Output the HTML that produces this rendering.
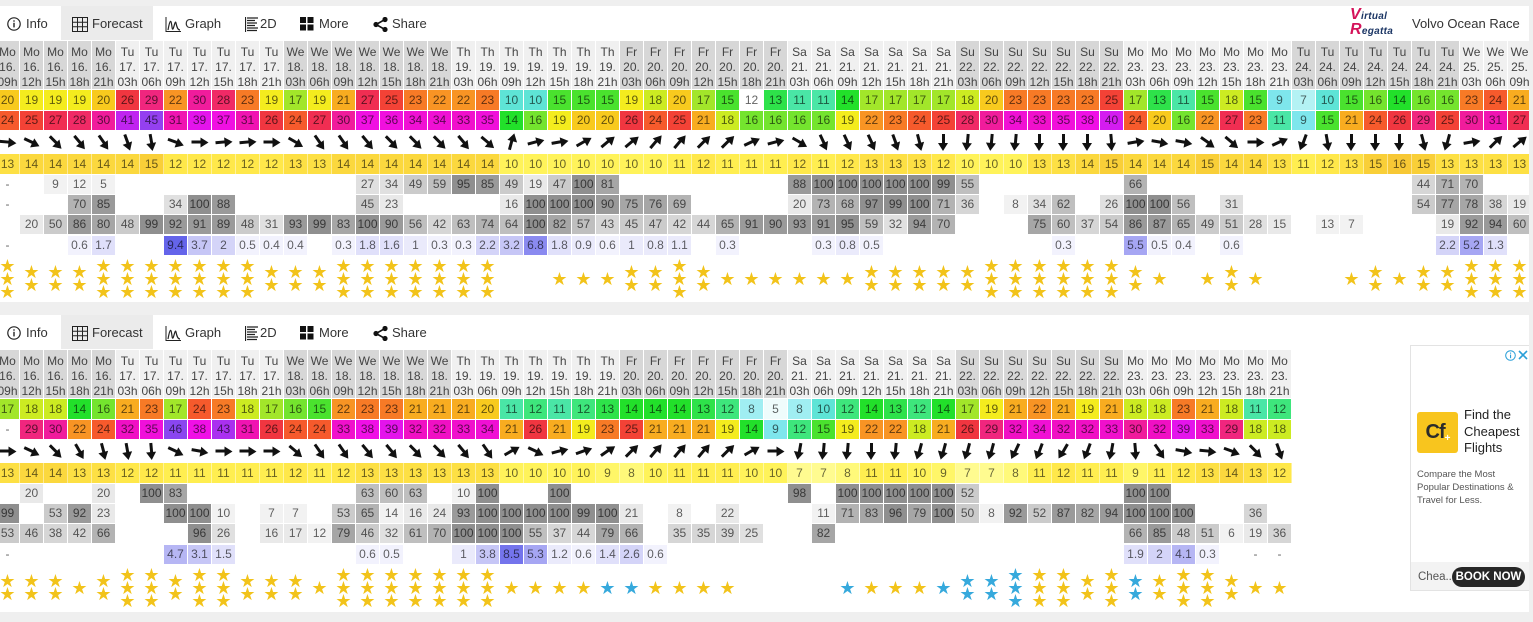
<!DOCTYPE html>
<html><head><meta charset="utf-8">
<style>
*{margin:0;padding:0;box-sizing:border-box}
body{width:1533px;height:622px;overflow:hidden;background:#efefef;font-family:"Liberation Sans",sans-serif;position:relative}
.p{position:absolute;left:0;width:1529px;background:#fff;overflow:hidden}
.fc{position:absolute;left:61px;top:0;width:92px;height:34px;background:#ebebeb}
.tx{position:absolute;top:10px;font-size:13px;color:#333;line-height:16px;white-space:nowrap}
.ic{position:absolute;top:11px}
.r{position:absolute;left:-4px;display:flex}
.r>b{flex:0 0 23px;width:23px;margin-right:1px;text-align:center;font-weight:400;font-size:12px;color:rgba(0,0,0,.62);display:block;overflow:hidden}
.hd{top:35px}.hd>b{height:48px;line-height:15px;padding-top:4px;color:#444;white-space:normal}
.d{background:#d7d7d7}.l{background:#f0f0f0}
.w{top:84px}.w>b{height:20px;line-height:20px}
.g{top:105px}.g>b{height:19px;line-height:19px}
.ar{top:125px}.ar>b{height:22px;position:relative;overflow:visible}
.ar i{position:absolute;left:0;top:0;width:23px;height:22px}
.ar i:before{content:"";position:absolute;left:10.1px;top:6px;width:2.8px;height:13px;background:#111}
.ar i:after{content:"";position:absolute;left:6.5px;top:2px;border-left:5px solid transparent;border-right:5px solid transparent;border-bottom:8px solid #111}
.t{top:148px}.t>b{height:20px;line-height:20px;margin-right:0!important;flex-basis:24px!important;width:24px!important;border-right:1px solid rgba(255,255,255,.45);color:rgba(0,0,0,.6)}
.ca{top:169px}.cb{top:189px}.cc{top:209px}
.ca>b,.cb>b,.cc>b{height:19px;line-height:19px;color:rgba(0,0,0,.62)}
.rn{top:230px}.rn>b{height:19px;line-height:19px}
.st{top:251px}.st>b{height:44px;display:flex;flex-direction:column;justify-content:center;font-size:18px;line-height:13px;color:#f2c31a;font-family:"DejaVu Sans",sans-serif}
.st>b.bl{color:#36a9dc}
.k5{background:#effcfc}.k7{background:#b4f2f4}.k8{background:#a0eef2}.k9{background:#7ee6ec}.k10{background:#5ee4d6}.k11{background:#4ae6a6}.k12{background:#3ee67c}.k13{background:#2ee24a}.k14{background:#22e02a}.k15{background:#4ae22e}.k16{background:#74e42e}.k17{background:#a2e62a}.k18{background:#cceb22}.k19{background:#f4ec1e}.k20{background:#f8ca1e}.k21{background:#f8ac20}.k22{background:#f89424}.k23{background:#f77a26}.k24{background:#f65a2c}.k25{background:#f34236}.k26{background:#f03640}.k27{background:#f02e52}.k28{background:#f02a66}.k29{background:#f0267e}.k30{background:#f01c9c}.k31{background:#f014b2}.k32{background:#f010c4}.k33{background:#f010cc}.k34{background:#f010d4}.k35{background:#f010da}.k36{background:#f010de}.k37{background:#f010e2}.k38{background:#f010e6}.k39{background:#e414ec}.k40{background:#d41cf0}.k41{background:#c024f0}.k43{background:#aa30f0}.k45{background:#9440f0}.k46{background:#8a46f0}
.t7{background:#fffb90}.t8{background:#fff97a}.t9{background:#fff668}.t10{background:#fff35a}.t11{background:#ffee50}.t12{background:#ffe84a}.t13{background:#fde044}.t14{background:#fbd83e}.t15{background:#f9cf38}.t16{background:#f7c835}
.c1{background:#f2f2f2}.c2{background:#e9e9e9}.c3{background:#e0e0e0}.c4{background:#d6d6d6}.c5{background:#cbcbcb}.c6{background:#bfbfbf}.c7{background:#b3b3b3}.c8{background:#a6a6a6}.c9{background:#9a9a9a}.c10{background:#8f8f8f}
.x1{background:#f2f2fd}.x2{background:#eaeafb}.x3{background:#e0e0fa}.x4{background:#d4d4f8}.x5{background:#c6c6f6}.x6{background:#b6b6f4}.x7{background:#a6a6f3}.x8{background:#8a8af0}.x9{background:#7474ec}.x10{background:#6464ea}
.ad{position:absolute;left:1410px;top:30px;width:120px;height:246px;border:1px solid #e3e3e3;background:#fff;overflow:hidden}
</style></head><body>

<!-- TOP PANEL -->
<div class="p" style="top:6px;height:296px">
<div class="fc"></div>
<svg class="ic" style="left:7px" width="14" height="14" viewBox="0 0 14 14"><circle cx="7" cy="7" r="6.2" fill="none" stroke="#222" stroke-width="1.2"/><rect x="6.3" y="5.8" width="1.4" height="4.6" fill="#222"/><rect x="6.3" y="3.3" width="1.4" height="1.4" fill="#222"/></svg>
<span class="tx" style="left:26px">Info</span>
<svg class="ic" style="left:72px" width="16" height="15" viewBox="0 0 16 15"><path d="M.5 .5h15v14H.5zM5.5 .5v14M10.5 .5v14M.5 5.2h15M.5 9.8h15" fill="none" stroke="#222"/></svg>
<span class="tx" style="left:92px">Forecast</span>
<svg class="ic" style="left:165px" width="16" height="15" viewBox="0 0 16 15"><path d="M1 0v14.5h15" stroke="#222" fill="none"/><path d="M3 13C5 2 6 2 7 10S10 1 11 6 13 13 15 13" stroke="#222" fill="none" stroke-width="1.2"/></svg>
<span class="tx" style="left:185px">Graph</span>
<svg class="ic" style="left:245px" width="14" height="15" viewBox="0 0 14 15"><path d="M.5 0v15M2 1h11M2 3.5h8M2 6h10M2 8.5h8M2 11h11M2 13.5h10" stroke="#222" fill="none" stroke-width="1.2"/></svg>
<span class="tx" style="left:260px">2D</span>
<svg class="ic" style="left:300px" width="14" height="14" viewBox="0 0 14 14"><rect width="6" height="6" fill="#111"/><rect x="7.5" width="6" height="6" fill="#111"/><rect y="7.5" width="6" height="6" fill="#111"/><rect x="7.5" y="7.5" width="6" height="6" fill="#111"/></svg>
<span class="tx" style="left:319px">More</span>
<svg class="ic" style="left:373px" width="15" height="15" viewBox="0 0 15 15"><path d="M12 2.5L3 7.5 12 12.5" stroke="#111" fill="none" stroke-width="1.6"/><circle cx="12" cy="2.5" r="2.6" fill="#111"/><circle cx="3" cy="7.5" r="2.6" fill="#111"/><circle cx="12" cy="12.5" r="2.6" fill="#111"/></svg>
<span class="tx" style="left:392px">Share</span>
<div style="position:absolute;left:1350px;top:2px;font-style:italic;font-weight:bold;color:#1b3564;font-size:10px;line-height:13px;letter-spacing:.3px"><span style="color:#d4145a;font-size:16px">V</span>irtual<br><span style="color:#d4145a;font-size:16px">R</span>egatta</div>
<span class="tx" style="left:1412px">Volvo Ocean Race</span>

<div class="r hd">
<b class=d>Mo 16. 09h</b><b class=d>Mo 16. 12h</b><b class=d>Mo 16. 15h</b><b class=d>Mo 16. 18h</b><b class=d>Mo 16. 21h</b>
<b class=l>Tu 17. 03h</b><b class=l>Tu 17. 06h</b><b class=l>Tu 17. 09h</b><b class=l>Tu 17. 12h</b><b class=l>Tu 17. 15h</b><b class=l>Tu 17. 18h</b><b class=l>Tu 17. 21h</b>
<b class=d>We 18. 03h</b><b class=d>We 18. 06h</b><b class=d>We 18. 09h</b><b class=d>We 18. 12h</b><b class=d>We 18. 15h</b><b class=d>We 18. 18h</b><b class=d>We 18. 21h</b>
<b class=l>Th 19. 03h</b><b class=l>Th 19. 06h</b><b class=l>Th 19. 09h</b><b class=l>Th 19. 12h</b><b class=l>Th 19. 15h</b><b class=l>Th 19. 18h</b><b class=l>Th 19. 21h</b>
<b class=d>Fr 20. 03h</b><b class=d>Fr 20. 06h</b><b class=d>Fr 20. 09h</b><b class=d>Fr 20. 12h</b><b class=d>Fr 20. 15h</b><b class=d>Fr 20. 18h</b><b class=d>Fr 20. 21h</b>
<b class=l>Sa 21. 03h</b><b class=l>Sa 21. 06h</b><b class=l>Sa 21. 09h</b><b class=l>Sa 21. 12h</b><b class=l>Sa 21. 15h</b><b class=l>Sa 21. 18h</b><b class=l>Sa 21. 21h</b>
<b class=d>Su 22. 03h</b><b class=d>Su 22. 06h</b><b class=d>Su 22. 09h</b><b class=d>Su 22. 12h</b><b class=d>Su 22. 15h</b><b class=d>Su 22. 18h</b><b class=d>Su 22. 21h</b>
<b class=l>Mo 23. 03h</b><b class=l>Mo 23. 06h</b><b class=l>Mo 23. 09h</b><b class=l>Mo 23. 12h</b><b class=l>Mo 23. 15h</b><b class=l>Mo 23. 18h</b><b class=l>Mo 23. 21h</b>
<b class=d>Tu 24. 03h</b><b class=d>Tu 24. 06h</b><b class=d>Tu 24. 09h</b><b class=d>Tu 24. 12h</b><b class=d>Tu 24. 15h</b><b class=d>Tu 24. 18h</b><b class=d>Tu 24. 21h</b>
<b class=l>We 25. 03h</b><b class=l>We 25. 06h</b><b class=l>We 25. 09h</b>
</div>

<div class="r w">
<b class=k20>20</b><b class=k19>19</b><b class=k19>19</b><b class=k19>19</b><b class=k20>20</b><b class=k26>26</b><b class=k29>29</b><b class=k22>22</b><b class=k30>30</b><b class=k28>28</b><b class=k23>23</b><b class=k19>19</b><b class=k17>17</b><b class=k19>19</b><b class=k21>21</b><b class=k27>27</b><b class=k25>25</b><b class=k23>23</b><b class=k22>22</b><b class=k22>22</b><b class=k23>23</b>
<b class=k10>10</b><b class=k10>10</b><b class=k15>15</b><b class=k15>15</b><b class=k15>15</b><b class=k19>19</b><b class=k18>18</b><b class=k20>20</b><b class=k17>17</b><b class=k15>15</b><b>12</b><b class=k13>13</b><b class=k11>11</b><b class=k11>11</b><b class=k14>14</b><b class=k17>17</b><b class=k17>17</b><b class=k17>17</b><b class=k17>17</b><b class=k18>18</b><b class=k20>20</b>
<b class=k23>23</b><b class=k23>23</b><b class=k23>23</b><b class=k23>23</b><b class=k25>25</b><b class=k17>17</b><b class=k13>13</b><b class=k11>11</b><b class=k15>15</b><b class=k18>18</b><b class=k15>15</b><b class=k9>9</b><b class=k7>7</b><b class=k10>10</b><b class=k15>15</b><b class=k16>16</b><b class=k14>14</b><b class=k16>16</b><b class=k16>16</b><b class=k23>23</b><b class=k24>24</b><b class=k21>21</b>
</div>

<div class="r g">
<b class=k24>24</b><b class=k25>25</b><b class=k27>27</b><b class=k28>28</b><b class=k30>30</b><b class=k41>41</b><b class=k45>45</b><b class=k31>31</b><b class=k39>39</b><b class=k37>37</b><b class=k31>31</b><b class=k26>26</b><b class=k24>24</b><b class=k27>27</b><b class=k30>30</b><b class=k37>37</b><b class=k36>36</b><b class=k34>34</b><b class=k34>34</b><b class=k33>33</b><b class=k35>35</b>
<b class=k14>14</b><b class=k16>16</b><b class=k19>19</b><b class=k20>20</b><b class=k20>20</b><b class=k26>26</b><b class=k24>24</b><b class=k25>25</b><b class=k21>21</b><b class=k18>18</b><b class=k16>16</b><b class=k16>16</b><b class=k16>16</b><b class=k16>16</b><b class=k19>19</b><b class=k22>22</b><b class=k23>23</b><b class=k24>24</b><b class=k25>25</b><b class=k28>28</b><b class=k30>30</b>
<b class=k34>34</b><b class=k33>33</b><b class=k35>35</b><b class=k38>38</b><b class=k40>40</b><b class=k24>24</b><b class=k20>20</b><b class=k16>16</b><b class=k22>22</b><b class=k27>27</b><b class=k23>23</b><b class=k11>11</b><b class=k9>9</b><b class=k15>15</b><b class=k21>21</b><b class=k24>24</b><b class=k26>26</b><b class=k29>29</b><b class=k25>25</b><b class=k30>30</b><b class=k31>31</b><b class=k27>27</b>
</div>

<div class="r ar">
<b><i style="transform:rotate(95deg)"></i></b><b><i style="transform:rotate(115deg)"></i></b><b><i style="transform:rotate(135deg)"></i></b><b><i style="transform:rotate(140deg)"></i></b><b><i style="transform:rotate(145deg)"></i></b><b><i style="transform:rotate(160deg)"></i></b><b><i style="transform:rotate(170deg)"></i></b><b><i style="transform:rotate(110deg)"></i></b><b><i style="transform:rotate(90deg)"></i></b><b><i style="transform:rotate(85deg)"></i></b><b><i style="transform:rotate(85deg)"></i></b><b><i style="transform:rotate(90deg)"></i></b><b><i style="transform:rotate(120deg)"></i></b><b><i style="transform:rotate(145deg)"></i></b><b><i style="transform:rotate(145deg)"></i></b><b><i style="transform:rotate(140deg)"></i></b><b><i style="transform:rotate(135deg)"></i></b><b><i style="transform:rotate(135deg)"></i></b><b><i style="transform:rotate(135deg)"></i></b><b><i style="transform:rotate(140deg)"></i></b><b><i style="transform:rotate(130deg)"></i></b>
<b><i style="transform:rotate(15deg)"></i></b><b><i style="transform:rotate(75deg)"></i></b><b><i style="transform:rotate(80deg)"></i></b><b><i style="transform:rotate(60deg)"></i></b><b><i style="transform:rotate(50deg)"></i></b><b><i style="transform:rotate(50deg)"></i></b><b><i style="transform:rotate(40deg)"></i></b><b><i style="transform:rotate(40deg)"></i></b><b><i style="transform:rotate(45deg)"></i></b><b><i style="transform:rotate(45deg)"></i></b><b><i style="transform:rotate(65deg)"></i></b><b><i style="transform:rotate(75deg)"></i></b><b><i style="transform:rotate(120deg)"></i></b><b><i style="transform:rotate(155deg)"></i></b><b><i style="transform:rotate(155deg)"></i></b><b><i style="transform:rotate(155deg)"></i></b><b><i style="transform:rotate(160deg)"></i></b><b><i style="transform:rotate(165deg)"></i></b><b><i style="transform:rotate(180deg)"></i></b><b><i style="transform:rotate(185deg)"></i></b><b><i style="transform:rotate(185deg)"></i></b>
<b><i style="transform:rotate(185deg)"></i></b><b><i style="transform:rotate(180deg)"></i></b><b><i style="transform:rotate(180deg)"></i></b><b><i style="transform:rotate(180deg)"></i></b><b><i style="transform:rotate(175deg)"></i></b><b><i style="transform:rotate(80deg)"></i></b><b><i style="transform:rotate(100deg)"></i></b><b><i style="transform:rotate(100deg)"></i></b><b><i style="transform:rotate(125deg)"></i></b><b><i style="transform:rotate(130deg)"></i></b><b><i style="transform:rotate(90deg)"></i></b><b><i style="transform:rotate(65deg)"></i></b><b><i style="transform:rotate(200deg)"></i></b><b><i style="transform:rotate(170deg)"></i></b><b><i style="transform:rotate(180deg)"></i></b><b><i style="transform:rotate(180deg)"></i></b><b><i style="transform:rotate(180deg)"></i></b><b><i style="transform:rotate(165deg)"></i></b><b><i style="transform:rotate(195deg)"></i></b><b><i style="transform:rotate(80deg)"></i></b><b><i style="transform:rotate(45deg)"></i></b><b><i style="transform:rotate(50deg)"></i></b>
</div>

<div class="r t">
<b class=t13>13</b><b class=t14>14</b><b class=t14>14</b><b class=t14>14</b><b class=t14>14</b><b class=t14>14</b><b class=t15>15</b><b class=t12>12</b><b class=t12>12</b><b class=t12>12</b><b class=t12>12</b><b class=t12>12</b><b class=t13>13</b><b class=t13>13</b><b class=t14>14</b><b class=t14>14</b><b class=t14>14</b><b class=t14>14</b><b class=t14>14</b><b class=t14>14</b><b class=t14>14</b>
<b class=t10>10</b><b class=t10>10</b><b class=t10>10</b><b class=t10>10</b><b class=t10>10</b><b class=t10>10</b><b class=t10>10</b><b class=t11>11</b><b class=t12>12</b><b class=t11>11</b><b class=t11>11</b><b class=t11>11</b><b class=t12>12</b><b class=t11>11</b><b class=t12>12</b><b class=t13>13</b><b class=t13>13</b><b class=t13>13</b><b class=t12>12</b><b class=t10>10</b><b class=t10>10</b>
<b class=t10>10</b><b class=t13>13</b><b class=t13>13</b><b class=t14>14</b><b class=t15>15</b><b class=t14>14</b><b class=t14>14</b><b class=t14>14</b><b class=t15>15</b><b class=t14>14</b><b class=t14>14</b><b class=t13>13</b><b class=t11>11</b><b class=t12>12</b><b class=t13>13</b><b class=t15>15</b><b class=t16>16</b><b class=t15>15</b><b class=t13>13</b><b class=t13>13</b><b class=t13>13</b><b class=t13>13</b>
</div>

<div class="r ca">
<b>-</b><b></b><b class=c1>9</b><b class=c1>12</b><b class=c1>5</b><b></b><b></b><b></b><b></b><b></b><b></b><b></b><b></b><b></b><b></b><b class=c3>27</b><b class=c3>34</b><b class=c5>49</b><b class=c6>59</b><b class=c10>95</b><b class=c9>85</b>
<b class=c5>49</b><b class=c2>19</b><b class=c5>47</b><b class=c10>100</b><b class=c8>81</b><b></b><b></b><b></b><b></b><b></b><b></b><b></b><b class=c9>88</b><b class=c10>100</b><b class=c10>100</b><b class=c10>100</b><b class=c10>100</b><b class=c10>100</b><b class=c10>99</b><b class=c6>55</b><b></b>
<b></b><b></b><b></b><b></b><b></b><b class=c7>66</b><b></b><b></b><b></b><b></b><b></b><b></b><b></b><b></b><b></b><b></b><b></b><b class=c4>44</b><b class=c7>71</b><b class=c7>70</b><b></b><b></b>
</div>

<div class="r cb">
<b>-</b><b></b><b></b><b class=c7>70</b><b class=c9>85</b><b></b><b></b><b class=c3>34</b><b class=c10>100</b><b class=c9>88</b><b></b><b></b><b></b><b></b><b></b><b class=c5>45</b><b class=c2>23</b><b></b><b></b><b></b><b></b>
<b class=c2>16</b><b class=c10>100</b><b class=c10>100</b><b class=c10>100</b><b class=c9>90</b><b class=c8>75</b><b class=c8>76</b><b class=c7>69</b><b></b><b></b><b></b><b></b><b class=c2>20</b><b class=c7>73</b><b class=c7>68</b><b class=c10>97</b><b class=c10>99</b><b class=c10>100</b><b class=c7>71</b><b class=c4>36</b><b></b>
<b class=c1>8</b><b class=c3>34</b><b class=c6>62</b><b></b><b class=c3>26</b><b class=c10>100</b><b class=c10>100</b><b class=c6>56</b><b></b><b class=c3>31</b><b></b><b></b><b></b><b></b><b></b><b></b><b></b><b class=c5>54</b><b class=c8>77</b><b class=c8>78</b><b class=c4>38</b><b class=c2>19</b>
</div>

<div class="r cc">
<b></b><b class=c2>20</b><b class=c5>50</b><b class=c9>86</b><b class=c8>80</b><b class=c5>48</b><b class=c10>99</b><b class=c9>92</b><b class=c9>91</b><b class=c9>89</b><b class=c5>48</b><b class=c3>31</b><b class=c9>93</b><b class=c10>99</b><b class=c8>83</b><b class=c10>100</b><b class=c9>90</b><b class=c6>56</b><b class=c4>42</b><b class=c6>63</b><b class=c7>74</b>
<b class=c6>64</b><b class=c10>100</b><b class=c8>82</b><b class=c6>57</b><b class=c4>43</b><b class=c5>45</b><b class=c5>47</b><b class=c4>42</b><b class=c4>44</b><b class=c7>65</b><b class=c9>91</b><b class=c9>90</b><b class=c9>93</b><b class=c9>91</b><b class=c10>95</b><b class=c6>59</b><b class=c3>32</b><b class=c9>94</b><b class=c7>70</b><b></b><b></b>
<b></b><b class=c8>75</b><b class=c6>60</b><b class=c4>37</b><b class=c5>54</b><b class=c9>86</b><b class=c9>87</b><b class=c7>65</b><b class=c5>49</b><b class=c5>51</b><b class=c3>28</b><b class=c2>15</b><b></b><b class=c1>13</b><b class=c1>7</b><b></b><b></b><b></b><b class=c2>19</b><b class=c9>92</b><b class=c9>94</b><b class=c6>60</b>
</div>

<div class="r rn">
<b>-</b><b></b><b></b><b class=x1>0.6</b><b class=x3>1.7</b><b></b><b></b><b class=x10>9.4</b><b class=x5>3.7</b><b class=x4>2</b><b class=x1>0.5</b><b class=x1>0.4</b><b class=x1>0.4</b><b></b><b class=x1>0.3</b><b class=x3>1.8</b><b class=x3>1.6</b><b class=x2>1</b><b class=x1>0.3</b><b class=x1>0.3</b><b class=x4>2.2</b>
<b class=x5>3.2</b><b class=x8>6.8</b><b class=x3>1.8</b><b class=x2>0.9</b><b class=x1>0.6</b><b class=x2>1</b><b class=x2>0.8</b><b class=x2>1.1</b><b></b><b class=x1>0.3</b><b></b><b></b><b></b><b class=x1>0.3</b><b class=x2>0.8</b><b class=x1>0.5</b><b></b><b></b><b></b><b></b><b></b>
<b></b><b></b><b class=x1>0.3</b><b></b><b></b><b class=x7>5.5</b><b class=x1>0.5</b><b class=x1>0.4</b><b></b><b class=x1>0.6</b><b></b><b></b><b></b><b></b><b></b><b></b><b></b><b></b><b class=x4>2.2</b><b class=x7>5.2</b><b class=x3>1.3</b><b></b>
</div>

<div class="r st">
<b>★<br>★<br>★</b><b>★<br>★</b><b>★<br>★</b><b>★<br>★</b><b>★<br>★<br>★</b><b>★<br>★<br>★</b><b>★<br>★<br>★</b><b>★<br>★<br>★</b><b>★<br>★<br>★</b><b>★<br>★<br>★</b><b>★<br>★<br>★</b><b>★<br>★</b><b>★<br>★</b><b>★<br>★</b><b>★<br>★<br>★</b><b>★<br>★<br>★</b><b>★<br>★<br>★</b><b>★<br>★<br>★</b><b>★<br>★<br>★</b><b>★<br>★<br>★</b><b>★<br>★<br>★</b>
<b></b><b></b><b>★</b><b>★</b><b>★</b><b>★<br>★</b><b>★<br>★</b><b>★<br>★<br>★</b><b>★<br>★</b><b>★</b><b>★</b><b>★</b><b>★</b><b>★</b><b>★</b><b>★<br>★</b><b>★<br>★</b><b>★<br>★</b><b>★<br>★</b><b>★<br>★</b><b>★<br>★<br>★</b>
<b>★<br>★<br>★</b><b>★<br>★<br>★</b><b>★<br>★<br>★</b><b>★<br>★<br>★</b><b>★<br>★<br>★</b><b>★<br>★</b><b>★</b><b></b><b>★</b><b>★<br>★</b><b>★</b><b></b><b></b><b></b><b>★</b><b>★<br>★</b><b>★</b><b>★<br>★</b><b>★<br>★</b><b>★<br>★<br>★</b><b>★<br>★<br>★</b><b>★<br>★<br>★</b>
</div>
</div>

<!-- BOTTOM PANEL -->
<div class="p" style="top:315px;height:297px">
<div class="fc"></div>
<svg class="ic" style="left:7px" width="14" height="14" viewBox="0 0 14 14"><circle cx="7" cy="7" r="6.2" fill="none" stroke="#222" stroke-width="1.2"/><rect x="6.3" y="5.8" width="1.4" height="4.6" fill="#222"/><rect x="6.3" y="3.3" width="1.4" height="1.4" fill="#222"/></svg>
<span class="tx" style="left:26px">Info</span>
<svg class="ic" style="left:72px" width="16" height="15" viewBox="0 0 16 15"><path d="M.5 .5h15v14H.5zM5.5 .5v14M10.5 .5v14M.5 5.2h15M.5 9.8h15" fill="none" stroke="#222"/></svg>
<span class="tx" style="left:92px">Forecast</span>
<svg class="ic" style="left:165px" width="16" height="15" viewBox="0 0 16 15"><path d="M1 0v14.5h15" stroke="#222" fill="none"/><path d="M3 13C5 2 6 2 7 10S10 1 11 6 13 13 15 13" stroke="#222" fill="none" stroke-width="1.2"/></svg>
<span class="tx" style="left:185px">Graph</span>
<svg class="ic" style="left:245px" width="14" height="15" viewBox="0 0 14 15"><path d="M.5 0v15M2 1h11M2 3.5h8M2 6h10M2 8.5h8M2 11h11M2 13.5h10" stroke="#222" fill="none" stroke-width="1.2"/></svg>
<span class="tx" style="left:260px">2D</span>
<svg class="ic" style="left:300px" width="14" height="14" viewBox="0 0 14 14"><rect width="6" height="6" fill="#111"/><rect x="7.5" width="6" height="6" fill="#111"/><rect y="7.5" width="6" height="6" fill="#111"/><rect x="7.5" y="7.5" width="6" height="6" fill="#111"/></svg>
<span class="tx" style="left:319px">More</span>
<svg class="ic" style="left:373px" width="15" height="15" viewBox="0 0 15 15"><path d="M12 2.5L3 7.5 12 12.5" stroke="#111" fill="none" stroke-width="1.6"/><circle cx="12" cy="2.5" r="2.6" fill="#111"/><circle cx="3" cy="7.5" r="2.6" fill="#111"/><circle cx="12" cy="12.5" r="2.6" fill="#111"/></svg>
<span class="tx" style="left:392px">Share</span>

<div class="r hd">
<b class=d>Mo 16. 09h</b><b class=d>Mo 16. 12h</b><b class=d>Mo 16. 15h</b><b class=d>Mo 16. 18h</b><b class=d>Mo 16. 21h</b>
<b class=l>Tu 17. 03h</b><b class=l>Tu 17. 06h</b><b class=l>Tu 17. 09h</b><b class=l>Tu 17. 12h</b><b class=l>Tu 17. 15h</b><b class=l>Tu 17. 18h</b><b class=l>Tu 17. 21h</b>
<b class=d>We 18. 03h</b><b class=d>We 18. 06h</b><b class=d>We 18. 09h</b><b class=d>We 18. 12h</b><b class=d>We 18. 15h</b><b class=d>We 18. 18h</b><b class=d>We 18. 21h</b>
<b class=l>Th 19. 03h</b><b class=l>Th 19. 06h</b><b class=l>Th 19. 09h</b><b class=l>Th 19. 12h</b><b class=l>Th 19. 15h</b><b class=l>Th 19. 18h</b><b class=l>Th 19. 21h</b>
<b class=d>Fr 20. 03h</b><b class=d>Fr 20. 06h</b><b class=d>Fr 20. 09h</b><b class=d>Fr 20. 12h</b><b class=d>Fr 20. 15h</b><b class=d>Fr 20. 18h</b><b class=d>Fr 20. 21h</b>
<b class=l>Sa 21. 03h</b><b class=l>Sa 21. 06h</b><b class=l>Sa 21. 09h</b><b class=l>Sa 21. 12h</b><b class=l>Sa 21. 15h</b><b class=l>Sa 21. 18h</b><b class=l>Sa 21. 21h</b>
<b class=d>Su 22. 03h</b><b class=d>Su 22. 06h</b><b class=d>Su 22. 09h</b><b class=d>Su 22. 12h</b><b class=d>Su 22. 15h</b><b class=d>Su 22. 18h</b><b class=d>Su 22. 21h</b>
<b class=l>Mo 23. 03h</b><b class=l>Mo 23. 06h</b><b class=l>Mo 23. 09h</b><b class=l>Mo 23. 12h</b><b class=l>Mo 23. 15h</b><b class=l>Mo 23. 18h</b><b class=l>Mo 23. 21h</b>
</div>

<div class="r w">
<b class=k17>17</b><b class=k18>18</b><b class=k18>18</b><b class=k14>14</b><b class=k16>16</b><b class=k21>21</b><b class=k23>23</b><b class=k17>17</b><b class=k24>24</b><b class=k23>23</b><b class=k18>18</b><b class=k17>17</b><b class=k16>16</b><b class=k15>15</b><b class=k22>22</b><b class=k23>23</b><b class=k23>23</b><b class=k21>21</b><b class=k21>21</b><b class=k21>21</b><b class=k20>20</b>
<b class=k11>11</b><b class=k12>12</b><b class=k11>11</b><b class=k12>12</b><b class=k13>13</b><b class=k14>14</b><b class=k14>14</b><b class=k14>14</b><b class=k13>13</b><b class=k12>12</b><b class=k8>8</b><b class=k5>5</b><b class=k8>8</b><b class=k10>10</b><b class=k12>12</b><b class=k14>14</b><b class=k13>13</b><b class=k12>12</b><b class=k14>14</b><b class=k17>17</b><b class=k19>19</b>
<b class=k21>21</b><b class=k22>22</b><b class=k21>21</b><b class=k19>19</b><b class=k21>21</b><b class=k18>18</b><b class=k18>18</b><b class=k23>23</b><b class=k21>21</b><b class=k18>18</b><b class=k11>11</b><b class=k12>12</b>
</div>

<div class="r g">
<b>-</b><b class=k29>29</b><b class=k30>30</b><b class=k22>22</b><b class=k24>24</b><b class=k32>32</b><b class=k35>35</b><b class=k46>46</b><b class=k38>38</b><b class=k43>43</b><b class=k31>31</b><b class=k26>26</b><b class=k24>24</b><b class=k24>24</b><b class=k33>33</b><b class=k38>38</b><b class=k39>39</b><b class=k32>32</b><b class=k32>32</b><b class=k33>33</b><b class=k34>34</b>
<b class=k21>21</b><b class=k26>26</b><b class=k21>21</b><b class=k19>19</b><b class=k23>23</b><b class=k25>25</b><b class=k21>21</b><b class=k21>21</b><b class=k21>21</b><b class=k19>19</b><b class=k14>14</b><b class=k9>9</b><b class=k12>12</b><b class=k15>15</b><b class=k19>19</b><b class=k22>22</b><b class=k22>22</b><b class=k18>18</b><b class=k21>21</b><b class=k26>26</b><b class=k29>29</b>
<b class=k32>32</b><b class=k34>34</b><b class=k32>32</b><b class=k32>32</b><b class=k33>33</b><b class=k30>30</b><b class=k32>32</b><b class=k39>39</b><b class=k33>33</b><b class=k29>29</b><b class=k18>18</b><b class=k18>18</b>
</div>

<div class="r ar">
<b><i style="transform:rotate(90deg)"></i></b><b><i style="transform:rotate(115deg)"></i></b><b><i style="transform:rotate(135deg)"></i></b><b><i style="transform:rotate(150deg)"></i></b><b><i style="transform:rotate(165deg)"></i></b><b><i style="transform:rotate(170deg)"></i></b><b><i style="transform:rotate(175deg)"></i></b><b><i style="transform:rotate(115deg)"></i></b><b><i style="transform:rotate(100deg)"></i></b><b><i style="transform:rotate(90deg)"></i></b><b><i style="transform:rotate(90deg)"></i></b><b><i style="transform:rotate(90deg)"></i></b><b><i style="transform:rotate(130deg)"></i></b><b><i style="transform:rotate(145deg)"></i></b><b><i style="transform:rotate(145deg)"></i></b><b><i style="transform:rotate(140deg)"></i></b><b><i style="transform:rotate(140deg)"></i></b><b><i style="transform:rotate(135deg)"></i></b><b><i style="transform:rotate(135deg)"></i></b><b><i style="transform:rotate(140deg)"></i></b><b><i style="transform:rotate(145deg)"></i></b>
<b><i style="transform:rotate(60deg)"></i></b><b><i style="transform:rotate(115deg)"></i></b><b><i style="transform:rotate(75deg)"></i></b><b><i style="transform:rotate(70deg)"></i></b><b><i style="transform:rotate(55deg)"></i></b><b><i style="transform:rotate(45deg)"></i></b><b><i style="transform:rotate(40deg)"></i></b><b><i style="transform:rotate(40deg)"></i></b><b><i style="transform:rotate(40deg)"></i></b><b><i style="transform:rotate(45deg)"></i></b><b><i style="transform:rotate(60deg)"></i></b><b><i style="transform:rotate(90deg)"></i></b><b><i style="transform:rotate(190deg)"></i></b><b><i style="transform:rotate(185deg)"></i></b><b><i style="transform:rotate(185deg)"></i></b><b><i style="transform:rotate(180deg)"></i></b><b><i style="transform:rotate(185deg)"></i></b><b><i style="transform:rotate(195deg)"></i></b><b><i style="transform:rotate(195deg)"></i></b><b><i style="transform:rotate(195deg)"></i></b><b><i style="transform:rotate(195deg)"></i></b>
<b><i style="transform:rotate(205deg)"></i></b><b><i style="transform:rotate(200deg)"></i></b><b><i style="transform:rotate(210deg)"></i></b><b><i style="transform:rotate(200deg)"></i></b><b><i style="transform:rotate(190deg)"></i></b><b><i style="transform:rotate(175deg)"></i></b><b><i style="transform:rotate(145deg)"></i></b><b><i style="transform:rotate(100deg)"></i></b><b><i style="transform:rotate(95deg)"></i></b><b><i style="transform:rotate(110deg)"></i></b><b><i style="transform:rotate(135deg)"></i></b><b><i style="transform:rotate(160deg)"></i></b>
</div>

<div class="r t">
<b class=t13>13</b><b class=t14>14</b><b class=t14>14</b><b class=t13>13</b><b class=t13>13</b><b class=t12>12</b><b class=t12>12</b><b class=t11>11</b><b class=t11>11</b><b class=t11>11</b><b class=t11>11</b><b class=t11>11</b><b class=t12>12</b><b class=t11>11</b><b class=t12>12</b><b class=t13>13</b><b class=t13>13</b><b class=t13>13</b><b class=t13>13</b><b class=t13>13</b><b class=t13>13</b>
<b class=t10>10</b><b class=t10>10</b><b class=t10>10</b><b class=t10>10</b><b class=t9>9</b><b class=t8>8</b><b class=t10>10</b><b class=t11>11</b><b class=t11>11</b><b class=t11>11</b><b class=t10>10</b><b class=t10>10</b><b class=t7>7</b><b class=t7>7</b><b class=t8>8</b><b class=t11>11</b><b class=t11>11</b><b class=t10>10</b><b class=t9>9</b><b class=t7>7</b><b class=t7>7</b>
<b class=t8>8</b><b class=t11>11</b><b class=t12>12</b><b class=t11>11</b><b class=t11>11</b><b class=t9>9</b><b class=t11>11</b><b class=t12>12</b><b class=t13>13</b><b class=t14>14</b><b class=t13>13</b><b class=t12>12</b>
</div>

<div class="r ca">
<b></b><b class=c2>20</b><b></b><b></b><b class=c2>20</b><b></b><b class=c10>100</b><b class=c8>83</b><b></b><b></b><b></b><b></b><b></b><b></b><b></b><b class=c6>63</b><b class=c6>60</b><b class=c6>63</b><b></b><b class=c1>10</b><b class=c10>100</b>
<b></b><b></b><b class=c10>100</b><b></b><b></b><b></b><b></b><b></b><b></b><b></b><b></b><b></b><b class=c10>98</b><b></b><b class=c10>100</b><b class=c10>100</b><b class=c10>100</b><b class=c10>100</b><b class=c10>100</b><b class=c5>52</b><b></b>
<b></b><b></b><b></b><b></b><b></b><b class=c10>100</b><b class=c10>100</b><b></b><b></b><b></b><b></b><b></b>
</div>

<div class="r cb">
<b class=c10>99</b><b></b><b class=c5>53</b><b class=c9>92</b><b class=c2>23</b><b></b><b></b><b class=c10>100</b><b class=c10>100</b><b class=c1>10</b><b></b><b class=c1>7</b><b class=c1>7</b><b></b><b class=c5>53</b><b class=c7>65</b><b class=c1>14</b><b class=c2>16</b><b class=c2>24</b><b class=c9>93</b><b class=c10>100</b>
<b class=c10>100</b><b class=c10>100</b><b class=c10>100</b><b class=c10>99</b><b class=c10>100</b><b class=c2>21</b><b></b><b class=c1>8</b><b></b><b class=c2>22</b><b></b><b></b><b></b><b class=c1>11</b><b class=c7>71</b><b class=c8>83</b><b class=c10>96</b><b class=c8>79</b><b class=c10>100</b><b class=c5>50</b><b class=c1>8</b>
<b class=c9>92</b><b class=c5>52</b><b class=c9>87</b><b class=c8>82</b><b class=c9>94</b><b class=c10>100</b><b class=c10>100</b><b class=c10>100</b><b></b><b></b><b class=c4>36</b><b></b>
</div>

<div class="r cc">
<b class=c5>53</b><b class=c5>46</b><b class=c4>38</b><b class=c4>42</b><b class=c7>66</b><b></b><b></b><b></b><b class=c10>96</b><b class=c3>26</b><b></b><b class=c2>16</b><b class=c2>17</b><b class=c1>12</b><b class=c8>79</b><b class=c5>46</b><b class=c3>32</b><b class=c6>61</b><b class=c7>70</b><b class=c10>100</b><b class=c10>100</b>
<b class=c10>100</b><b class=c6>55</b><b class=c4>37</b><b class=c4>44</b><b class=c8>79</b><b class=c7>66</b><b></b><b class=c4>35</b><b class=c4>35</b><b class=c4>39</b><b class=c3>25</b><b></b><b></b><b class=c8>82</b><b></b><b></b><b></b><b></b><b></b><b></b><b></b>
<b></b><b></b><b></b><b></b><b></b><b class=c7>66</b><b class=c9>85</b><b class=c5>48</b><b class=c5>51</b><b class=c1>6</b><b class=c2>19</b><b class=c4>36</b>
</div>

<div class="r rn">
<b>-</b><b></b><b></b><b></b><b></b><b></b><b></b><b class=x6>4.7</b><b class=x5>3.1</b><b class=x3>1.5</b><b></b><b></b><b></b><b></b><b></b><b class=x1>0.6</b><b class=x1>0.5</b><b></b><b></b><b class=x2>1</b><b class=x5>3.8</b>
<b class=x9>8.5</b><b class=x7>5.3</b><b class=x2>1.2</b><b class=x1>0.6</b><b class=x3>1.4</b><b class=x4>2.6</b><b class=x1>0.6</b><b></b><b></b><b></b><b></b><b></b><b></b><b></b><b></b><b></b><b></b><b></b><b></b><b></b><b></b>
<b></b><b></b><b></b><b></b><b></b><b class=x3>1.9</b><b class=x4>2</b><b class=x6>4.1</b><b class=x1>0.3</b><b></b><b>-</b><b>-</b>
</div>

<div class="r st">
<b>★<br>★</b><b>★<br>★</b><b>★<br>★</b><b>★</b><b>★<br>★</b><b>★<br>★<br>★</b><b>★<br>★<br>★</b><b>★<br>★</b><b>★<br>★<br>★</b><b>★<br>★<br>★</b><b>★<br>★</b><b>★<br>★</b><b>★<br>★</b><b>★</b><b>★<br>★<br>★</b><b>★<br>★<br>★</b><b>★<br>★<br>★</b><b>★<br>★<br>★</b><b>★<br>★<br>★</b><b>★<br>★<br>★</b><b>★<br>★<br>★</b>
<b>★</b><b>★</b><b>★</b><b>★</b><b class=bl>★</b><b class=bl>★</b><b>★</b><b>★</b><b>★</b><b>★</b><b></b><b></b><b></b><b></b><b class=bl>★</b><b>★</b><b>★</b><b>★</b><b class=bl>★</b><b class=bl>★<br>★</b><b class=bl>★<br>★</b>
<b class=bl>★<br>★<br>★</b><b>★<br>★<br>★</b><b>★<br>★<br>★</b><b>★<br>★</b><b>★<br>★<br>★</b><b class=bl>★<br>★</b><b>★<br>★</b><b>★<br>★<br>★</b><b>★<br>★<br>★</b><b>★<br>★</b><b>★</b><b>★</b>
</div>

<div class="ad">
<svg style="position:absolute;left:94px;top:4px" width="11" height="11" viewBox="0 0 11 11"><circle cx="5.5" cy="5.5" r="4.8" fill="none" stroke="#2a9fd8" stroke-width="1"/><rect x="5" y="4.6" width="1.1" height="3.6" fill="#2a9fd8"/><rect x="5" y="2.6" width="1.1" height="1.1" fill="#2a9fd8"/></svg>
<svg style="position:absolute;left:107px;top:4px" width="10" height="10" viewBox="0 0 10 10"><path d="M1 1L9 9M9 1L1 9" stroke="#2a9fd8" stroke-width="1.6"/></svg>
<div style="position:absolute;left:6px;top:66px;width:41px;height:41px;background:#f8c51e;border-radius:3px;font-weight:bold;font-size:20px;color:#2b2b2b;line-height:41px;text-align:center;letter-spacing:-1px">Cf<span style="color:#fff;font-size:10px;vertical-align:-3px">+</span></div>
<div style="position:absolute;left:53px;top:61px;font-size:13px;line-height:16.5px;color:#222">Find the<br>Cheapest<br>Flights</div>
<div style="position:absolute;left:6px;top:122px;font-size:9.5px;line-height:13px;color:#555;width:112px">Compare the Most<br>Popular Destinations &amp;<br>Travel for Less.</div>
<div style="position:absolute;left:0;top:216px;width:120px;height:30px;background:#f3f3f3"></div>
<div style="position:absolute;left:7px;top:223px;font-size:11.5px;color:#555;line-height:16px">Chea...</div>
<div style="position:absolute;left:41px;top:221px;width:73px;height:20px;border-radius:10px;background:#262626;color:#fff;font-weight:bold;font-size:11.5px;line-height:20px;text-align:center;white-space:nowrap">BOOK NOW</div>
</div>
</div>
</body></html>
